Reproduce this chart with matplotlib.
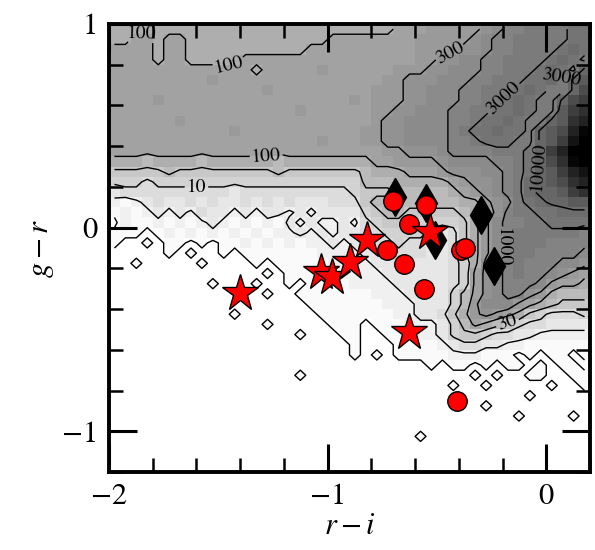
import numpy as np
import matplotlib
matplotlib.use("Agg")
import matplotlib.pyplot as plt
from matplotlib.colors import LinearSegmentedColormap
from matplotlib.ticker import MultipleLocator

plt.rcParams["font.family"] = "STIXGeneral"
plt.rcParams["mathtext.fontset"] = "stix"

# 2D histogram of the background sources, 0.05 mag bins (44 x 44),
# top row is g-r = 0.975, first column is r-i = -1.975.
# one character per bin: index i in CODES -> log10(N) = (i - 0.5) / 4, '0' = empty
CODES = "0123456789ABCDEFGHIJKLMNOPQRSTUVWXYZ"
hist_rows = [
    "88888888888888888888888" "888999AAAAABCDDEEEEFF",
    "88998998888888888888999" "99999AAAAABCDDEEEEEFF",
    "99998998888888888899999" "99999AAAABBCDDEEEEFGF",
    "99998998888899999999999" "99999AABBCCDDEEEEFGFE",
    "9999999999999899999A999" "999AAABBCCCDDEEEFGFEH",
    "999999999A9999999999999" "99AABBBCCCDDEEEFFGEHI",
    "99999999999999A99999999" "9AAABBCCCDDEEEFGFEEHJ",
    "9999A99999999999999999A" "9AAABBCCCDDEEFGFEEHJK",
    "99999999999999999A99999" "9AABBCCCDDEEFFGFEEIKL",
    "999999A9999999999999999" "9ABBCCCCDDEFFGFEEHILM",
    "99999999999A99999999999" "AABBCCCCDEFFGFFEHIJMO",
    "9999999999999999999A999" "AABBCCCCDDEFFFEEHIKNP",
    "99999999999999999999999" "99AABBBCDDDDEEEFHKMPQ",
    "88878888788888878888888" "899AAAABCCCCDDEFHJLOP",
    "66666766666666676666666" "7888999ABBBCCDEFHIKMN",
    "55545555555555555555555" "777888889ABBCDEGHIJLM",
    "34444444444344444444445" "6667777789ABCDEGHHIKL",
    "21234334343343434333444" "67777777788ABCEFGHHII",
    "12123232433232332323333" "567766666789BDEEFFGGG",
    "02112121232121213232232" "45666555568ACDDEEFFFF",
    "11101212121212122323233" "44555543468ACDEEEEEED",
    "10010110101121212122323" "34454443468ACDEEEDDDD",
    "00000101001011111112222" "33444433468ACDEEDDDDC",
    "00100000100001011111222" "23344333458BCDEDDDCCB",
    "00000000000000101111122" "22333333459BCDEDDCBA9",
    "00000000010001001011112" "22233333459BCDDDCA998",
    "00000000000000100111111" "12223333579BCDDBA8777",
    "00000000000000000011111" "1122233357ACCCA987666",
    "00000000000100000001111" "1112233468ABA98654445",
    "00000000000000100000111" "011122235798765443333",
    "00000000000000000100011" "001112235665443322222",
    "00000000000000000000001" "000111123443322111111",
    "00000000000000000000001" "010111112221110101101",
    "00000000000000000000000" "000000101101011010110",
    "00000000000000000100000" "000000000010100110011",
    "00000000000000000000000" "000000001001000001001",
    "00000000000000000000000" "000000000000000100000",
    "00000000000000000000000" "000000000001000000000",
    "00000000000000000000000" "000000000000001000010",
    "00000000000000000000000" "000000000000000000000",
    "00000000000000000000000" "000001000000000000000",
    "00000000000000000000000" "000000000000000000000",
    "00000000000000000000000" "000000000000000000000",
    "00000000000000000000000" "000000000000000000000",
]

contour_counts = [1, 3, 10, 30, 100, 300, 1000, 3000, 10000]

# where the contour labels sit
label_counts = [100, 100, 100, 10, 300, 3000, 3000, 10000, 1000, 30]
label_x = [-1.85, -1.45, -1.28, -1.60, -0.44, -0.20, 0.05, -0.03, -0.20, -0.18]
label_y = [0.92, 0.85, 0.36, 0.20, 0.89, 0.64, 0.75, 0.30, -0.10, -0.46]

# objects
star_ri = [-1.40, -1.03, -0.98, -0.90, -0.82, -0.53, -0.63]
star_gr = [-0.32, -0.22, -0.24, -0.17, -0.06, -0.02, -0.51]
circ_ri = [-0.70, -0.55, -0.63, -0.73, -0.65, -0.56, -0.39, -0.37, -0.41]
circ_gr = [0.13, 0.11, 0.02, -0.11, -0.18, -0.30, -0.11, -0.10, -0.85]
diam_ri = [-0.69, -0.55, -0.51, -0.30, -0.24]
diam_gr = [0.15, 0.12, -0.06, 0.06, -0.19]

for r in hist_rows:
    assert len(r) == 44, r

logn = np.array([[(CODES.index(c) - 0.5) * 0.25 for c in row] for row in hist_rows])
xc = np.linspace(-1.975, 0.175, 44)
yc = np.linspace(0.975, -1.175, 44)

# grey ramp of the original: soft in the middle, steep to black at the top end
greys = LinearSegmentedColormap.from_list(
    "greys", [(0.0, "#ffffff"), (1.3 / 6, "#cccccc"), (2.1 / 6, "#a3a3a3"),
              (3.6 / 6, "#757575"), (4.2 / 6, "#666666"), (5.0 / 6, "#383838"),
              (1.0, "#000000")])

fig = plt.figure(figsize=(5.95, 5.5), dpi=100)
ax = fig.add_axes([0.1832, 0.1418, 0.8084, 0.8145])

ax.imshow(logn, cmap=greys, vmin=0, vmax=6.0, extent=(-2.0, 0.2, -1.2, 1.0),
          origin="upper", interpolation="nearest", aspect="auto", zorder=0)

fmt = lambda v: "%d" % round(10 ** v)
# one contour set per level, so each label lands on the level it belongs to
for c in contour_counts:
    cs = ax.contour(xc, yc[::-1], logn[::-1], levels=[np.log10(c)], colors="k",
                    linewidths=1.0, zorder=1)
    spots = [(x, y) for n, x, y in zip(label_counts, label_x, label_y) if n == c]
    if spots:
        cs.clabel(manual=spots, fmt=fmt, fontsize=14, inline=True, inline_spacing=2)

ax.plot(diam_ri, diam_gr, "d", color="k", ms=19, zorder=4)
ax.plot(circ_ri, circ_gr, "o", mfc="red", mec="k", mew=1.0, ms=14, zorder=5)
ax.plot(star_ri, star_gr, "*", mfc="red", mec="k", mew=1.0, ms=28, zorder=6)

ax.set_xlim(-2.0, 0.2)
ax.set_ylim(-1.2, 1.0)
ax.xaxis.set_major_locator(MultipleLocator(1))
ax.xaxis.set_minor_locator(MultipleLocator(0.2))
ax.yaxis.set_major_locator(MultipleLocator(1))
ax.yaxis.set_minor_locator(MultipleLocator(0.2))
ax.tick_params(which="both", direction="in", top=True, right=True,
               labelsize=22, pad=8)
ax.tick_params(which="major", length=20, width=2.2)
ax.tick_params(which="minor", length=10, width=1.8)
for s in ax.spines.values():
    s.set_linewidth(2.8)

ax.set_xlabel(r"$r-i$", fontsize=22, labelpad=2)
ax.set_ylabel(r"$g-r$", fontsize=22, labelpad=4)

fig.savefig("out.png", dpi=100)
